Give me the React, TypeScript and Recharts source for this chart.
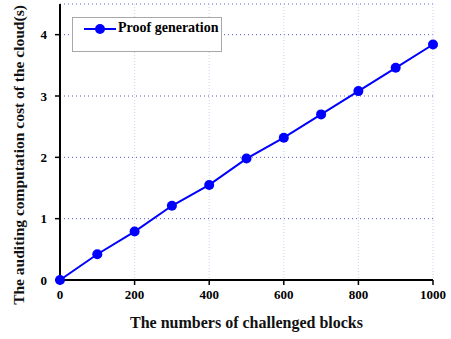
import { LineChart, Line, XAxis, YAxis, CartesianGrid, Legend, Label } from "recharts";

const blocks = [0, 100, 200, 300, 400, 500, 600, 700, 800, 900, 1000];
const proofCost = [0, 0.42, 0.79, 1.21, 1.55, 1.98, 2.32, 2.7, 3.08, 3.46, 3.84];

const xTicks = [0, 200, 400, 600, 800, 1000];
const xMinorTicks = [100, 300, 500, 700, 900];
const xTopTicks = [0, 100, 200, 300, 400, 500, 600, 700, 800, 900, 1000];
const yTicks = [0, 1, 2, 3, 4];
const yMinorTicks = [0.5, 1.5, 2.5, 3.5];
const yRightTicks = [0, 0.5, 1, 1.5, 2, 2.5, 3, 3.5, 4, 4.5];

const seriesName = "Proof generation";
const xTitle = "The numbers of challenged blocks";
const yTitle = "The auditing computation cost of the cloud(s)";

const data = blocks.map((b, i) => ({ blocks: b, cost: proofCost[i] }));

const serif = '"Liberation Serif", "Times New Roman", serif';
const axisLine = { stroke: "#000", strokeWidth: 2 };
const tickLine = { stroke: "#000", strokeWidth: 1.5 };
const blank = () => "";

const LegendBox = () => (
  <div
    style={{
      width: 150,
      height: 35,
      boxSizing: "border-box",
      border: "1px solid #a8a8a8",
      background: "#fff",
      position: "relative",
      fontFamily: serif,
    }}
  >
    <svg width={40} height={22} style={{ position: "absolute", left: 10, top: 0 }}>
      <line x1={1} y1={11} x2={33} y2={11} stroke="#0000ff" strokeWidth={2} />
      <circle cx={17} cy={11} r={5} fill="#0000ff" />
    </svg>
    <span
      style={{
        position: "absolute",
        left: 45,
        top: 2,
        fontWeight: "bold",
        fontSize: 14,
        color: "#000",
        whiteSpace: "nowrap",
      }}
    >
      {seriesName}
    </span>
  </div>
);

export default function App() {
  return (
    <div style={{ position: "absolute", left: 0, top: 0 }}>
      <LineChart width={451} height={339} data={data} margin={{ top: 4, right: 18, bottom: 0, left: 0 }}>
        <CartesianGrid vertical={false} stroke="#5a5ad8" strokeDasharray="1 3" />
        <CartesianGrid horizontal={false} stroke="#cfcff2" strokeDasharray="1 2" />

        {/* minor ticks first so they sit on the plot edge */}
        <XAxis
          xAxisId="minor"
          type="number"
          dataKey="blocks"
          domain={[0, 1000]}
          ticks={xMinorTicks}
          height={0}
          axisLine={false}
          tickLine={tickLine}
          tickSize={3}
          tickFormatter={blank}
        />
        <XAxis
          type="number"
          dataKey="blocks"
          domain={[0, 1000]}
          ticks={xTicks}
          height={59}
          axisLine={axisLine}
          tickLine={tickLine}
          tickSize={5}
          tickMargin={5}
          tick={{ fill: "#000", fontSize: 13, fontWeight: "bold", fontFamily: serif }}
        >
          <Label
            content={({ viewBox }: any) => (
              <text
                x={viewBox.x + viewBox.width / 2}
                y={viewBox.y + 48}
                textAnchor="middle"
                fontFamily={serif}
                fontWeight="bold"
                fontSize={16}
                fill="#111"
              >
                {xTitle}
              </text>
            )}
          />
        </XAxis>
        <XAxis
          xAxisId="top"
          orientation="top"
          type="number"
          dataKey="blocks"
          domain={[0, 1000]}
          ticks={xTopTicks}
          height={0}
          axisLine={axisLine}
          tickLine={tickLine}
          tickSize={4}
          tickFormatter={blank}
        />

        <YAxis
          yAxisId="minor"
          type="number"
          domain={[0, 4.5]}
          ticks={yMinorTicks}
          width={0}
          axisLine={false}
          tickLine={tickLine}
          tickSize={3}
          tickFormatter={blank}
        />
        <YAxis
          type="number"
          domain={[0, 4.5]}
          ticks={yTicks}
          width={60}
          axisLine={axisLine}
          tickLine={tickLine}
          tickSize={5}
          tickMargin={8}
          tick={{ fill: "#000", fontSize: 13, fontWeight: "bold", fontFamily: serif }}
        >
          <Label
            content={({ viewBox }: any) => {
              const x = viewBox.x + 18;
              const y = viewBox.y + viewBox.height / 2 + 13;
              return (
                <text
                  x={x}
                  y={y}
                  transform={`rotate(-90, ${x}, ${y})`}
                  textAnchor="middle"
                  dominantBaseline="central"
                  fontFamily={serif}
                  fontWeight="bold"
                  fontSize={15.5}
                  fill="#111"
                >
                  {yTitle}
                </text>
              );
            }}
          />
        </YAxis>
        <YAxis
          yAxisId="right"
          orientation="right"
          mirror
          type="number"
          domain={[0, 4.5]}
          ticks={yRightTicks}
          width={0}
          axisLine={axisLine}
          tickLine={tickLine}
          tickSize={5}
          tickFormatter={blank}
        />

        <Legend
          layout="horizontal"
          verticalAlign="middle"
          content={() => <LegendBox />}
          wrapperStyle={{ left: 72, top: 17, width: 150 }}
        />

        <Line
          type="linear"
          dataKey="cost"
          name={seriesName}
          stroke="#0000ff"
          strokeWidth={2}
          dot={{ r: 5, fill: "#0000ff", stroke: "#0000ff", strokeWidth: 0 }}
          activeDot={false}
          isAnimationActive={false}
        />
      </LineChart>
    </div>
  );
}
